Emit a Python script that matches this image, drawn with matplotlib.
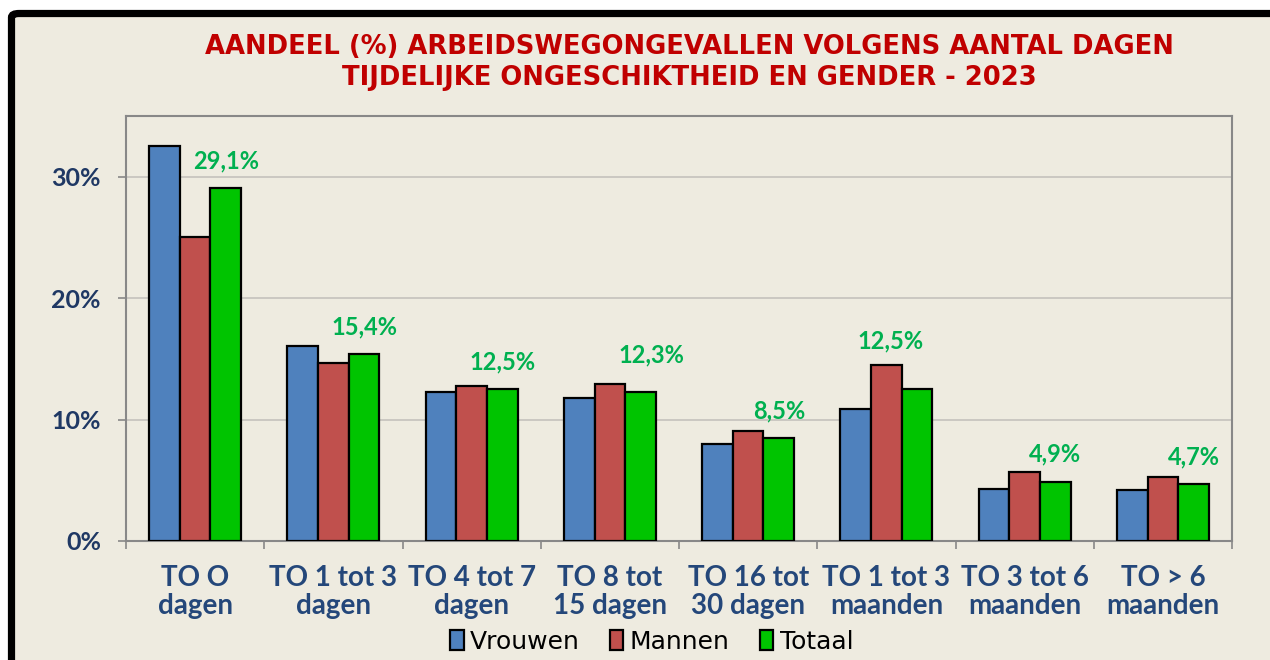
import matplotlib.pyplot as plt
import matplotlib.patches as patches
import numpy as np

# categorieën en waarden (%)
categories = ["TO O\ndagen", "TO 1 tot 3\ndagen", "TO 4 tot 7\ndagen", "TO 8 tot\n15 dagen",
              "TO 16 tot\n30 dagen", "TO 1 tot 3\nmaanden", "TO 3 tot 6\nmaanden", "TO > 6\nmaanden"]
vrouwen = [32.5, 16.1, 12.3, 11.8, 8.0, 10.9, 4.3, 4.2]
mannen = [25.0, 14.7, 12.8, 12.9, 9.1, 14.5, 5.7, 5.3]
totaal = [29.1, 15.4, 12.5, 12.3, 8.5, 12.5, 4.9, 4.7]
series_names = ["Vrouwen", "Mannen", "Totaal"]

bg = "#EEEBE0"
colors = ["#4F81BD", "#C0504D", "#00C400"]

fig = plt.figure(figsize=(12.7, 6.6), dpi=100, facecolor="white")

# zwart kader rond de grafiek (loopt buiten beeld rechts/onder)
frame = patches.FancyBboxPatch((11.5 / 1270, -0.1), 1.2, 0.1 + (1 - 13.5 / 660),
                               boxstyle="round,pad=0,rounding_size=0.006",
                               transform=fig.transFigure, facecolor=bg,
                               edgecolor="black", linewidth=5.2, zorder=-5)
fig.patches.append(frame)

ax = fig.add_axes([126 / 1270, 1 - 541 / 660, (1232 - 126) / 1270, (541 - 116) / 660])
ax.set_facecolor(bg)

x = np.arange(len(categories))
w = 0.222
for i, (vals, name) in enumerate(zip([vrouwen, mannen, totaal], series_names)):
    ax.bar(x + (i - 1) * w, vals, w, color=colors[i], edgecolor="black",
           linewidth=1.6, label=name, zorder=3)

# labels boven Totaal (twee labels zijn in het origineel handmatig verschoven)
nudge = {3: (8, 7), 5: (-19, 15)}
for i, (xi, v) in enumerate(zip(x, totaal)):
    dx, dy = nudge.get(i, (0, 0))
    ax.annotate(f"{v:.1f}%".replace(".", ","), (xi + w, v), xytext=(dx, 19.5 + dy),
                textcoords="offset points", ha="center", va="center",
                fontsize=17, fontweight="bold", color="#00B050", family="Lato")

ax.set_xlim(-0.5, 7.5)
ax.set_ylim(0, 35)
ax.set_yticks([0, 10, 20, 30])
ax.set_yticklabels(["0%", "10%", "20%", "30%"])
ax.yaxis.grid(True, color="#C4C2BC", linewidth=1.2, zorder=0)
ax.set_axisbelow(True)

ax.set_xticks(np.arange(-0.5, 8, 1))
ax.set_xticklabels([])
ax.set_xticks(x, minor=True)
ax.set_xticklabels(categories, minor=True)
ax.tick_params(axis="x", which="major", length=6, color="#888888", width=1.2)
ax.tick_params(axis="x", which="minor", length=0, pad=17, labelsize=20,
               labelcolor="#24477A")
ax.tick_params(axis="y", length=6, color="#888888", width=1.2, pad=12,
               labelsize=18, labelcolor="#1F3864")
for lab in ax.get_xticklabels(minor=True) + ax.get_yticklabels():
    lab.set_fontweight("bold")
    lab.set_family("Lato")
for lab in ax.get_xticklabels(minor=True):
    lab.set_linespacing(1.12)

for s in ax.spines.values():
    s.set_color("#888888")
    s.set_linewidth(1.5)

fig.text(0.543, 0.905, "AANDEEL (%) ARBEIDSWEGONGEVALLEN VOLGENS AANTAL DAGEN\n"
         "TIJDELIJKE ONGESCHIKTHEID EN GENDER - 2023",
         ha="center", va="center", fontsize=18.6, fontweight="bold",
         color="#C00000", linespacing=1.25)

fig.legend(loc="center", bbox_to_anchor=(0.513, 0.028), ncol=3, frameon=False,
           handlelength=0.55, handleheight=0.9, handletextpad=0.25,
           columnspacing=1.2, prop={"size": 18})

fig.savefig("out.png", dpi=100, facecolor="white")
